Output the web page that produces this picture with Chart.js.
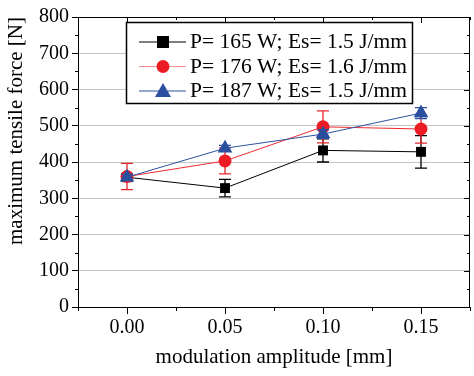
<!DOCTYPE html>
<html>
<head>
<meta charset="utf-8">
<script src="https://cdn.jsdelivr.net/npm/chart.js@4.4.0/dist/chart.umd.min.js"></script>
<style>
  html, body { margin: 0; padding: 0; background: #fff; overflow: hidden; }
  #wrap { width: 474px; height: 376px; }
</style>
</head>
<body>
<div id="wrap"><canvas id="chart"></canvas></div>
<script>
// modulation amplitude on the x axis
const amplitudes = [0.00, 0.05, 0.10, 0.15];
const xTicks = [0.00, 0.05, 0.10, 0.15];
const yTicks = [0, 100, 200, 300, 400, 500, 600, 700, 800];

const seriesLabels = ['P= 165 W; Es= 1.5 J/mm', 'P= 176 W; Es= 1.6 J/mm', 'P= 187 W; Es= 1.5 J/mm'];

// maximum tensile force [N] and error bars
const force165 = [358, 328, 432, 428];
const err165 = [10, 24, 32, 45];
const force176 = [360, 403, 497, 491];
const err176 = [36, 36, 44, 39];
const force187 = [358, 438, 477, 535];
const err187 = [8, 8, 12, 15];

const serif = "'Liberation Serif', 'Times New Roman', serif";
const errors = [err165, err176, err187];

function points(values) {
  return amplitudes.map((x, i) => ({ x: x, y: values[i] }));
}

// error bars under each dataset's markers
const errorBars = {
  id: 'errorBars',
  beforeDatasetDraw(chart, args) {
    const ds = chart.data.datasets[args.index];
    const err = errors[args.index];
    const xs = chart.scales.x, ys = chart.scales.y;
    const ctx = chart.ctx;
    ctx.save();
    ctx.strokeStyle = ds.errColor;
    ctx.lineWidth = 1.3;
    ds.data.forEach((p, i) => {
      const px = xs.getPixelForValue(p.x);
      const top = ys.getPixelForValue(p.y + err[i]);
      const bot = ys.getPixelForValue(p.y - err[i]);
      ctx.beginPath();
      ctx.moveTo(px, top); ctx.lineTo(px, bot);
      ctx.moveTo(px - 6, top); ctx.lineTo(px + 6, top);
      ctx.moveTo(px - 6, bot); ctx.lineTo(px + 6, bot);
      ctx.stroke();
    });
    ctx.restore();
  }
};

// frame, extra ticks and the boxed legend
const frame = {
  id: 'frame',
  afterDraw(chart) {
    const ctx = chart.ctx;
    const a = chart.chartArea;
    const xs = chart.scales.x, ys = chart.scales.y;
    ctx.save();
    ctx.strokeStyle = '#000';
    ctx.lineWidth = 1;
    ctx.strokeRect(a.left + 0.5, a.top + 0.5, a.right - a.left - 1, a.bottom - a.top);
    ctx.beginPath();
    for (let v = -0.025; v <= 0.1751; v += 0.025) {
      const px = Math.round(xs.getPixelForValue(v)) + 0.5;
      const major = Math.abs(v / 0.05 - Math.round(v / 0.05)) < 1e-6;
      ctx.moveTo(px, a.top); ctx.lineTo(px, a.top + (major ? 6 : 3));
      if (!major) { ctx.moveTo(px, a.bottom); ctx.lineTo(px, a.bottom + 4); }
    }
    for (let v = 0; v <= 800; v += 50) {
      const py = Math.round(ys.getPixelForValue(v)) + 0.5;
      const major = v % 100 === 0;
      ctx.moveTo(a.right, py); ctx.lineTo(a.right - (major ? 6 : 3), py);
      if (!major) { ctx.moveTo(a.left, py); ctx.lineTo(a.left - 3, py); }
    }
    ctx.stroke();

    // legend box
    const lx = 126, ly = 22, lw = 286, lh = 81;
    ctx.fillStyle = '#fff';
    ctx.fillRect(lx, ly, lw, lh);
    ctx.lineWidth = 1.5;
    ctx.strokeRect(lx + 0.5, ly + 0.5, lw, lh);
    ctx.font = '20px ' + serif;
    ctx.textBaseline = 'middle';
    chart.data.datasets.forEach((ds, i) => {
      const cy = ly + 20 + i * 24.5;
      ctx.strokeStyle = ds.legendLine;
      ctx.lineWidth = 1.2;
      ctx.beginPath();
      ctx.moveTo(lx + 13, cy); ctx.lineTo(lx + 60, cy);
      ctx.stroke();
      drawMarker(ctx, ds.pointStyle, lx + 37, cy, ds.backgroundColor);
      ctx.fillStyle = '#000';
      const w = ctx.measureText(seriesLabels[i]).width;
      ctx.save();
      ctx.translate(lx + 64, cy + 1);
      ctx.scale(217 / w, 1);
      ctx.fillText(seriesLabels[i], 0, 0);
      ctx.restore();
    });
    ctx.restore();
  }
};

function drawMarker(ctx, style, x, y, color) {
  ctx.fillStyle = color;
  ctx.beginPath();
  if (style === 'rect') {
    ctx.rect(x - 6, y - 6, 12, 12);
  } else if (style === 'circle') {
    ctx.arc(x, y, 6.5, 0, Math.PI * 2);
  } else {
    ctx.moveTo(x, y - 8); ctx.lineTo(x + 8, y + 6); ctx.lineTo(x - 8, y + 6); ctx.closePath();
  }
  ctx.fill();
}

new Chart(document.getElementById('chart'), {
  type: 'line',
  data: {
    datasets: [
      {
        label: seriesLabels[0], data: points(force165),
        borderColor: '#000', backgroundColor: '#000', errColor: '#000', legendLine: '#000',
        pointStyle: 'rect', pointRadius: 7, borderWidth: 1, pointBorderWidth: 0, order: 3
      },
      {
        label: seriesLabels[1], data: points(force176),
        borderColor: '#ee2a30', backgroundColor: '#ed1c24', errColor: '#e8242c', legendLine: '#f39094',
        pointStyle: 'circle', pointRadius: 6.5, borderWidth: 1, pointBorderWidth: 0, order: 2
      },
      {
        label: seriesLabels[2], data: points(force187),
        borderColor: '#2d51a3', backgroundColor: '#2b4f9f', errColor: '#2b4f9f', legendLine: '#2d51a3',
        pointStyle: 'triangle', pointRadius: 8.5, borderWidth: 1, pointBorderWidth: 0, order: 1
      }
    ]
  },
  options: {
    responsive: true,
    maintainAspectRatio: false,
    animation: false,
    layout: { autoPadding: false, padding: { left: 0, right: 4, top: 17, bottom: 2 } },
    plugins: { legend: { display: false }, tooltip: { enabled: false } },
    scales: {
      x: {
        type: 'linear', min: -0.025, max: 0.175,
        afterBuildTicks: s => { s.ticks = xTicks.map(v => ({ value: v })); },
        afterFit: s => { s.height = 67; },
        ticks: { color: '#000', font: { family: serif, size: 20 }, padding: 2, callback: v => v.toFixed(2) },
        grid: { drawOnChartArea: false, color: '#000', tickLength: 7 },
        border: { color: '#000', width: 1 },
        title: { display: true, text: 'modulation amplitude [mm]', color: '#000', font: { family: serif, size: 21 }, padding: { top: 10 } }
      },
      y: {
        min: 0, max: 800,
        afterBuildTicks: s => { s.ticks = yTicks.map(v => ({ value: v })); },
        afterFit: s => { s.width = 78; },
        ticks: { color: '#000', font: { family: serif, size: 20 }, padding: 3 },
        grid: { color: '#c4c4c4', tickColor: '#000', tickLength: 6, lineWidth: 1 },
        border: { color: '#000', width: 1 },
        title: { display: true, text: 'maximum tensile force [N]', color: '#000', align: 'end', font: { family: serif, size: 21 }, padding: { bottom: 0 } }
      }
    }
  },
  plugins: [errorBars, frame]
});
</script>
</body>
</html>
